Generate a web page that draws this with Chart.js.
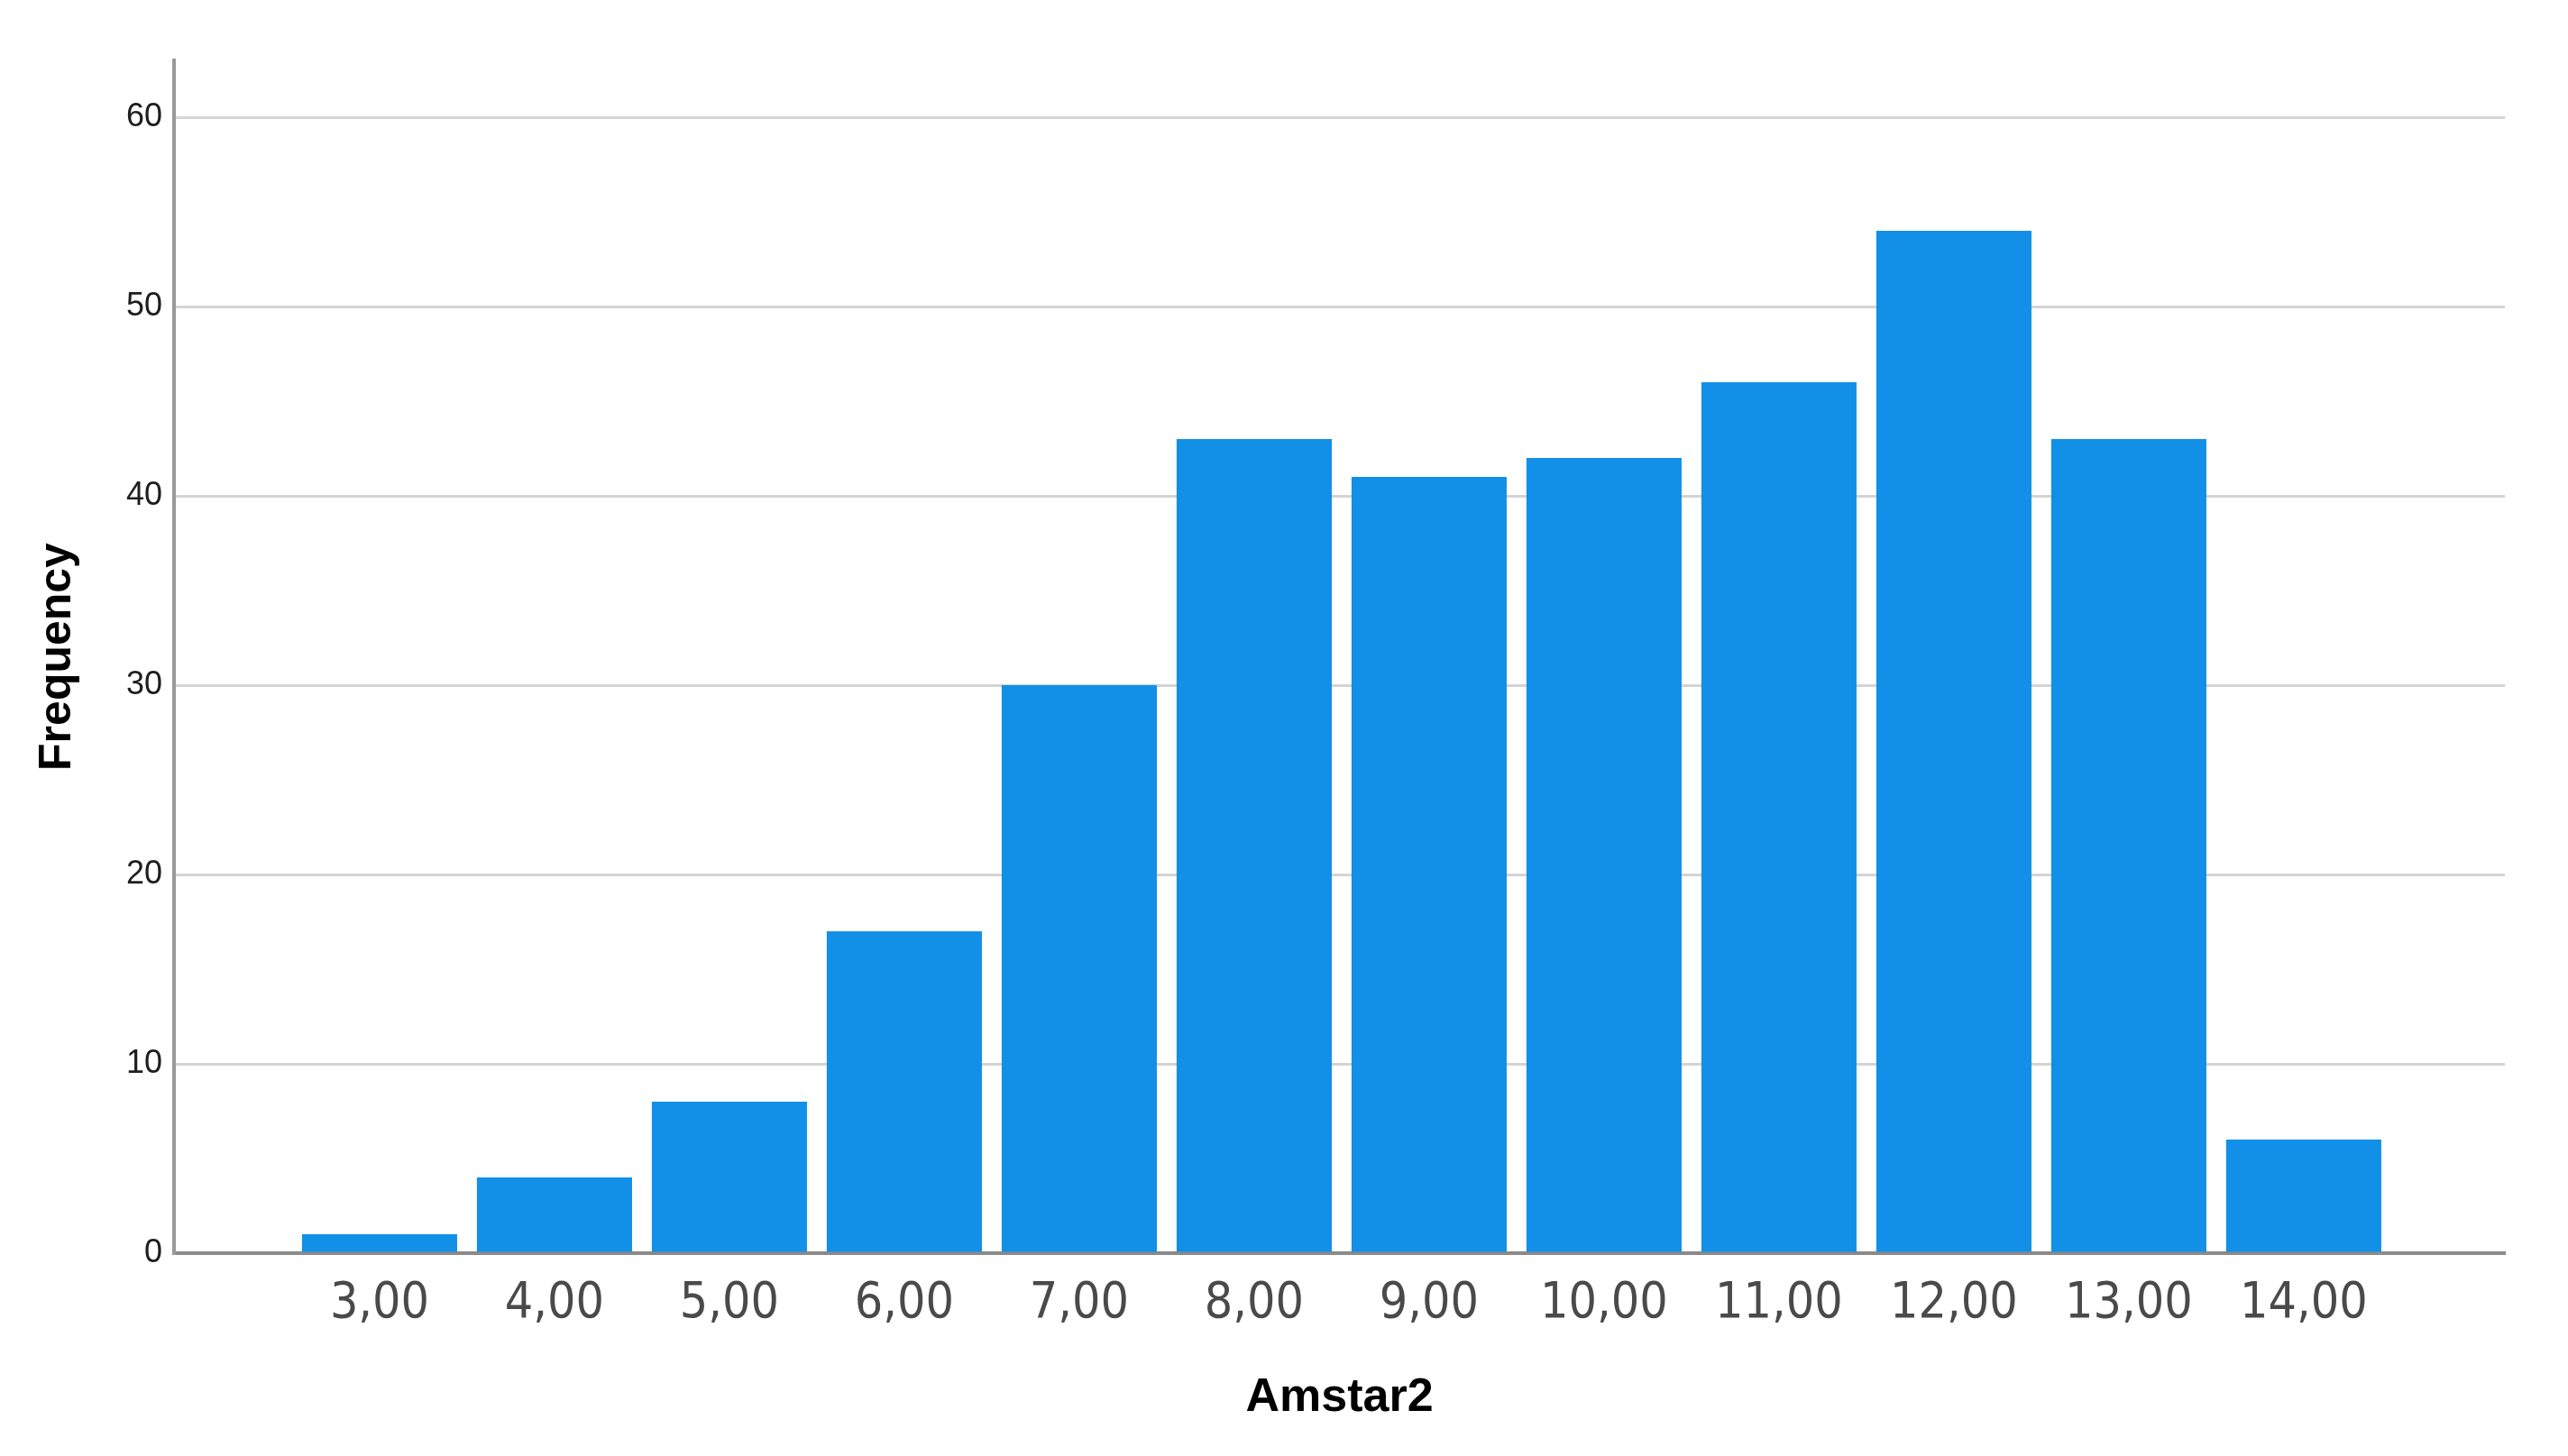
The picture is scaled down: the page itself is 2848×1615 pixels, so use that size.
<!DOCTYPE html>
<html>
<head>
<meta charset="utf-8">
<title>Amstar2</title>
<script src="https://cdn.jsdelivr.net/npm/chart.js@4.4.1/dist/chart.umd.min.js"></script>
<style>
    html, body { margin: 0; padding: 0; background: #fff; }
    #wrap { width: 2848px; height: 1615px; position: relative; }
</style>
</head>
<body>
<div id="wrap"><canvas id="hist"></canvas></div>
<script>
// Amstar2 scores and how many reviews got each one
const scores = [3, 4, 5, 6, 7, 8, 9, 10, 11, 12, 13, 14];
const scoreLabels = ['3,00', '4,00', '5,00', '6,00', '7,00', '8,00', '9,00', '10,00', '11,00', '12,00', '13,00', '14,00'];
const frequency = [1, 4, 8, 17, 30, 43, 41, 42, 46, 54, 43, 6];
const yTicks = [0, 10, 20, 30, 40, 50, 60];

document.addEventListener('DOMContentLoaded', () => {
    const ctx = document.getElementById('hist').getContext('2d');

    const points = scores.map((s, i) => ({ x: s, y: frequency[i] }));

    new Chart(ctx, {
        type: 'bar',
        data: {
            datasets: [{
                label: 'Frequency',
                data: points,
                backgroundColor: '#128fe6',
                borderWidth: 0,
                categoryPercentage: 1,
                barPercentage: 0.887
            }]
        },
        options: {
            responsive: true,
            maintainAspectRatio: false,
            animation: false,
            layout: { padding: { top: 67, right: 70, left: 0, bottom: 0 } },
            plugins: {
                legend: { display: false },
                tooltip: { enabled: false }
            },
            scales: {
                x: {
                    type: 'linear',
                    min: 1.825,
                    max: 15.15,
                    offset: false,
                    grid: { display: false, drawTicks: false, offset: false },
                    border: { display: true, color: '#8a8a8a', width: 4 },
                    afterBuildTicks: (scale) => {
                        scale.ticks = scores.map(v => ({ value: v }));
                    },
                    afterFit: (scale) => { scale.height = 225; },
                    ticks: {
                        autoSkip: false,
                        maxRotation: 0,
                        padding: 24,
                        color: '#4a4a4a',
                        font: { family: "'Liberation Sans Narrow', 'DejaVu Sans Condensed', sans-serif", size: 55 },
                        callback: (value) => {
                            const i = scores.indexOf(value);
                            return i >= 0 ? scoreLabels[i] : '';
                        }
                    },
                    title: {
                        display: true,
                        text: 'Amstar2',
                        color: '#000',
                        font: { family: "'Liberation Sans', Arial, sans-serif", size: 52, weight: 'bold' },
                        padding: { top: 0, bottom: 33 }
                    }
                },
                y: {
                    min: 0,
                    max: 63,
                    grid: { color: '#d4d4d4', lineWidth: 3, drawTicks: false },
                    border: { display: true, color: '#999', width: 4 },
                    afterBuildTicks: (scale) => {
                        scale.ticks = yTicks.map(v => ({ value: v }));
                    },
                    afterFit: (scale) => { scale.width = 193; },
                    ticks: {
                        padding: 13,
                        color: '#1e1e1e',
                        font: { family: "'Liberation Sans', Arial, sans-serif", size: 36 }
                    },
                    title: {
                        display: true,
                        text: 'Frequency',
                        color: '#000',
                        font: { family: "'Liberation Sans', Arial, sans-serif", size: 50, weight: 'bold' },
                        padding: { top: 34, bottom: 0 }
                    }
                }
            }
        }
    });
});
</script>
</body>
</html>
